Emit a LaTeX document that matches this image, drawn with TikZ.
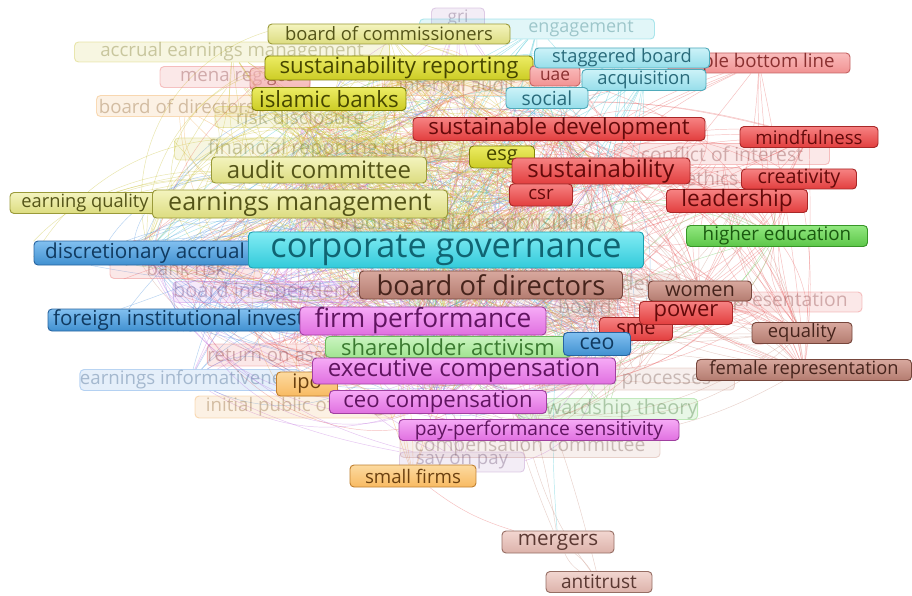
\documentclass[tikz,border=0pt]{standalone}
\usepackage{fontspec}
\setmainfont{Open Sans}
\pgfdeclarelayer{background}
\pgfsetlayers{background,main}
\definecolor{eRed}{HTML}{E86060}
\definecolor{eYel}{HTML}{C8C030}
\definecolor{eMag}{HTML}{C070E0}
\definecolor{eBlu}{HTML}{4A90E0}
\definecolor{eCyn}{HTML}{30C0D0}
\definecolor{eGrn}{HTML}{60C850}
\definecolor{eBrn}{HTML}{C89080}
\definecolor{eOrg}{HTML}{F0A040}
\definecolor{fPur}{HTML}{B080C0}
\tikzset{
 kwbase/.style={rectangle,rounded corners=3pt,inner xsep=0pt,inner ysep=0pt,line width=0.7pt},
 ylw/.style={kwbase,draw={rgb,255:red,154;green,154;blue,58},top color={rgb,255:red,244;green,244;blue,190},bottom color={rgb,255:red,220;green,220;blue,128},text={rgb,255:red,84;green,84;blue,24}},
 ylb/.style={kwbase,draw={rgb,255:red,130;green,130;blue,10},top color={rgb,255:red,236;green,236;blue,100},bottom color={rgb,255:red,204;green,204;blue,36},text={rgb,255:red,70;green,70;blue,0}},
 cyn/.style={kwbase,draw={rgb,255:red,30;green,160;blue,176},top color={rgb,255:red,130;green,236;blue,244},bottom color={rgb,255:red,50;green,202;blue,218},text={rgb,255:red,16;green,100;blue,114}},
 cynl/.style={kwbase,draw={rgb,255:red,80;green,170;blue,186},top color={rgb,255:red,204;green,242;blue,248},bottom color={rgb,255:red,150;green,222;blue,234},text={rgb,255:red,40;green,106;blue,122}},
 red/.style={kwbase,draw={rgb,255:red,168;green,40;blue,40},top color={rgb,255:red,246;green,130;blue,130},bottom color={rgb,255:red,226;green,62;blue,62},text={rgb,255:red,100;green,10;blue,10}},
 redl/.style={kwbase,draw={rgb,255:red,196;green,100;blue,100},top color={rgb,255:red,250;green,188;blue,188},bottom color={rgb,255:red,240;green,146;blue,146},text={rgb,255:red,138;green,48;blue,48}},
 brn/.style={kwbase,draw={rgb,255:red,118;green,70;blue,60},top color={rgb,255:red,216;green,168;blue,158},bottom color={rgb,255:red,180;green,124;blue,112},text={rgb,255:red,70;green,36;blue,28}},
 brnl/.style={kwbase,draw={rgb,255:red,150;green,110;blue,100},top color={rgb,255:red,242;green,214;blue,208},bottom color={rgb,255:red,220;green,178;blue,170},text={rgb,255:red,90;green,56;blue,50}},
 grn/.style={kwbase,draw={rgb,255:red,56;green,150;blue,40},top color={rgb,255:red,146;green,232;blue,128},bottom color={rgb,255:red,92;green,198;blue,72},text={rgb,255:red,26;green,90;blue,16}},
 grnl/.style={kwbase,draw={rgb,255:red,110;green,184;blue,96},top color={rgb,255:red,202;green,244;blue,192},bottom color={rgb,255:red,160;green,228;blue,144},text={rgb,255:red,58;green,122;blue,48}},
 blu/.style={kwbase,draw={rgb,255:red,40;green,100;blue,160},top color={rgb,255:red,130;green,192;blue,240},bottom color={rgb,255:red,64;green,144;blue,208},text={rgb,255:red,16;green,58;blue,96}},
 mag/.style={kwbase,draw={rgb,255:red,160;green,64;blue,160},top color={rgb,255:red,246;green,170;blue,246},bottom color={rgb,255:red,224;green,112;blue,224},text={rgb,255:red,96;green,20;blue,96}},
 org/.style={kwbase,draw={rgb,255:red,192;green,128;blue,48},top color={rgb,255:red,252;green,218;blue,160},bottom color={rgb,255:red,248;green,186;blue,98},text={rgb,255:red,106;green,64;blue,16}},
 fd/.style={kwbase,draw=#1,fill=#1,draw opacity=0.35,fill opacity=0.14,text=#1!55!black,text opacity=0.34},
 fdtext/.style={inner sep=0pt,text=#1!55!black,text opacity=0.34},
 edge/.style={line width=0.35pt,draw opacity=0.4}
}
\newcommand\kw[8]{\node[#6,minimum width={#4*0.75pt},minimum height={#5*0.75pt},font=\fontsize{#7pt}{#7pt}\selectfont] (#1) at (#2,#3) {#8};}
\begin{document}
\begin{tikzpicture}[x=0.75pt,y=-0.75pt]
\begin{pgfonlayer}{background}
\fill[white] (0,0) rectangle (912,595);
\end{pgfonlayer}
\useasboundingbox (0,0) rectangle (912,595);
% ---------- faded keywords ----------
\kw{gri}{458}{18}{53}{20}{fd=fPur}{13}{gri}
\kw{eng}{537}{29}{235}{20}{fd=eCyn}{13.5}{}
\node[fdtext=eCyn,font=\fontsize{13.5pt}{13.5pt}\selectfont] (engt) at (581,29) {engagement};
\kw{aem}{232}{52}{315}{20}{fd=eYel}{14}{accrual earnings management}
\kw{mena}{235}{77}{150}{21}{fd=eRed}{14}{mena region}
\kw{ia}{457}{85}{145}{21}{fd=eOrg}{14}{internal audit}
\kw{bodf}{177}{106}{161}{21}{fd=eOrg}{14}{board of directors}
\kw{rd}{300}{117}{170}{21}{fd=eYel}{14.5}{risk disclosure}
\kw{frq}{327}{149}{305}{22}{fd=eYel}{15}{financial reporting quality}
\kw{coi}{722}{154}{215}{21}{fd=eRed}{14.5}{conflict of interest}
\kw{eth}{712}{178}{60}{21}{fd=eRed}{14.5}{ethics}
\kw{csrf}{462}{224}{320}{20}{fd=eYel}{15}{corporate social responsibility}
\kw{bank}{186}{268}{152}{21}{fd=eRed}{14}{bank risk}
\kw{bi}{270}{292}{180}{21}{fd=eMag}{15}{board independence}
\kw{gen}{620}{285}{120}{22}{fd=eBrn}{15}{gender}
\kw{brd}{585}{306}{60}{21}{fd=eBrn}{14.5}{board}
\kw{rep}{781}{302}{162}{20}{fd=eRed}{14.5}{representation}
\kw{roa}{278}{355}{125}{22}{fd=eRed}{14}{return on assets}
\kw{einf}{190}{380}{220}{21}{fd=eBlu}{14}{earnings informativeness}
\kw{bp}{637}{379}{195}{22}{fd=eBrn}{14.5}{board processes}
\kw{ipof}{295}{407}{200}{22}{fd=eOrg}{14}{initial public offering}
\kw{st}{608}{409}{177}{21}{fd=eGrn}{15}{stewardship theory}
\kw{cc}{530}{447}{260}{21}{fd=eBrn}{14.5}{compensation committee}
\kw{sop}{462}{462}{125}{20}{fd=fPur}{14}{say on pay}
% ---------- main keywords ----------
\kw{boc}{389}{34}{242}{20}{ylw}{13.8}{board of commissioners}
\kw{gcc}{280}{79}{60}{22}{redl,fill opacity=0.55,text opacity=0.6,draw opacity=0.6}{13}{gcc}
\kw{sr}{399}{68}{268}{24}{ylb}{16.7}{sustainability reporting}
\kw{ib}{329}{99}{154}{23}{ylb}{16.8}{islamic banks}
\kw{tbl}{759}{63}{182}{20}{redl}{14}{triple bottom line}
\kw{uae}{555}{76}{50}{20}{redl}{13}{uae}
\kw{stag}{622}{58}{175}{20}{cynl}{13.7}{staggered board}
\kw{acq}{644}{80}{124}{21}{cynl}{13.8}{acquisition}
\kw{soc}{547}{98}{82}{21}{cynl}{14.5}{social}
\kw{sd}{559}{129}{292}{23}{red}{16.7}{sustainable development}
\kw{mind}{809}{137}{138}{21}{red}{14}{mindfulness}
\kw{esg}{502}{157}{65}{22}{ylb}{15}{esg}
\kw{sus}{601}{171}{178}{26}{red}{18}{sustainability}
\kw{ac}{319}{170}{215}{26}{ylw}{18}{audit committee}
\kw{crea}{799}{179}{115}{20}{red}{14.8}{creativity}
\kw{csr}{541}{195}{63}{22}{red}{14}{csr}
\kw{lead}{737}{201}{141}{23}{red}{17}{leadership}
\kw{eq}{85}{203}{150}{21}{ylw}{13.7}{earning quality}
\kw{em}{300}{204}{295}{28}{ylw}{18.8}{earnings management}
\kw{hed}{777}{236}{181}{21}{grn}{14.1}{higher education}
\kw{da}{145}{253}{222}{24}{blu}{15.5}{discretionary accrual}
\kw{cg}{446}{250}{395}{36}{cyn}{25.7}{corporate governance}
\kw{bod}{491}{285}{263}{28}{brn}{20.5}{board of directors}
\kw{wom}{700}{291}{103}{20}{brn}{15}{women}
\kw{sme}{636}{329}{73}{23}{red}{15}{sme}
\kw{pow}{686}{313}{93}{23}{red}{16.5}{power}
\kw{fii}{194}{320}{292}{22}{blu}{15.5}{foreign institutional investors}
\kw{fp}{423}{321}{246}{28}{mag}{19.7}{firm performance}
\kw{equ}{802}{333}{100}{21}{brn}{13.8}{equality}
\kw{sha}{448}{347}{245}{21}{grnl}{16.5}{shareholder activism}
\kw{ceo}{597}{344}{67}{23}{blu}{16}{ceo}
\kw{frep}{804}{370}{215}{21}{brn}{13.7}{female representation}
\kw{ipo}{307}{384}{61}{24}{org}{15}{ipo}
\kw{ec}{464}{371}{303}{26}{mag}{18.1}{executive compensation}
\kw{ceoc}{438}{402}{217}{23}{mag}{16.6}{ceo compensation}
\kw{pps}{539}{430}{280}{21}{mag}{14.4}{pay-performance sensitivity}
\kw{smf}{413}{476}{126}{22}{org}{14}{small firms}
\kw{mer}{558}{542}{112}{22}{brnl}{15.5}{mergers}
\kw{anti}{599}{582}{106}{21}{brnl}{14.3}{antitrust}
% ---------- connectors ----------
\pgfmathsetseed{7}
\begin{pgfonlayer}{background}
\foreach \s in {sus,sd,csr,lead,pow,sme,mind,crea,tbl,uae,coi,eth,rep,bank,roa}{
 \foreach \t in {cg,bod,fp,em,ac,ec,wom,frep,equ,hed,sus,sd}{
  \ifx\s\t\else
  \pgfmathsetmacro\bb{rand*32}
  \draw[edge,eRed] (\s) to[bend left=\bb] (\t);
  \fi}}
\foreach \s in {ac,em,boc,sr,ib,esg,eq,aem,frq,rd,mena,gcc,csrf}{
 \foreach \t in {cg,bod,fp,sus,csr,da,ec,sha,em}{
  \ifx\s\t\else
  \pgfmathsetmacro\bb{rand*45}
  \draw[edge,eYel] (\s) to[bend left=\bb] (\t);
  \fi}}
\foreach \s in {fp,ec,ceoc,pps,bi,sop,gri}{
 \foreach \t in {cg,bod,em,ac,da,fii,ceo,sha,sus,einf}{
  \pgfmathsetmacro\bb{rand*45}
  \draw[edge,eMag] (\s) to[bend left=\bb] (\t);}}
\foreach \s in {da,fii,ceo,einf}{
 \foreach \t in {cg,em,fp,ec,ac,bod,bi,ipo}{
  \pgfmathsetmacro\bb{rand*45}
  \draw[edge,eBlu] (\s) to[bend left=\bb] (\t);}}
\foreach \s in {cg,stag,acq,soc,eng}{
 \foreach \t in {bod,fp,em,ac,sus,sd,ec,ceoc,sha,csr,da}{
  \pgfmathsetmacro\bb{rand*45}
  \draw[edge,eCyn] (\s) to[bend left=\bb] (\t);}}
\foreach \s in {sha,hed,st}{
 \foreach \t in {cg,ec,fp,bod,ceo,lead,sus,ceoc}{
  \pgfmathsetmacro\bb{rand*45}
  \draw[edge,eGrn] (\s) to[bend left=\bb] (\t);}}
\foreach \s in {bod,wom,equ,frep,gen,brd,bp,cc}{
 \foreach \t in {cg,fp,ec,sus,pow,sme,lead,ceoc,em}{
  \pgfmathsetmacro\bb{rand*40}
  \draw[edge,eBrn] (\s) to[bend left=\bb] (\t);}}
\foreach \s in {ipo,smf,ipof,ia,bodf}{
 \foreach \t in {cg,fp,ec,em,bod,ac}{
  \pgfmathsetmacro\bb{rand*45}
  \draw[edge,eOrg] (\s) to[bend left=\bb] (\t);}}
% dense central tangle
\foreach \s/\c in {cg/eCyn,bod/eBrn,fp/eMag,em/eYel,ac/eYel,ec/eMag,sha/eGrn,ceoc/eMag,sus/eRed,csr/eRed,sd/eRed,esg/eYel,frq/eYel,csrf/eYel,bi/eMag,da/eBlu,fii/eBlu,ia/eOrg,rd/eYel,sr/eYel,ib/eYel,ceo/eBlu,sme/eRed,pow/eRed,gen/eBrn,brd/eBrn,roa/eRed,bank/eRed}{
 \foreach \t in {cg,bod,fp,em,ac,ec,sha,ceoc,sus,csr,sd,esg,frq,csrf,bi,da,ia,rd,sr,ceo}{
  \ifx\s\t\else
  \pgfmathsetmacro\aa{int(random(0,359))}
  \pgfmathsetmacro\ab{int(random(0,359))}
  \pgfmathsetmacro\bb{rand*60}
  \draw[edge,\c] (\s.\aa) to[bend left=\bb] (\t.\ab);
  \fi}}
\draw[edge,eBrn] (mer) to[bend left=10] (anti);
\draw[edge,eBrn] (mer) to[bend right=15] (anti);
\draw[edge,eBrn] (mer) to[bend left=8] (bod);
\draw[edge,eBrn] (mer) to[bend right=12] (cg);
\draw[edge,eBrn] (anti) to[bend right=6] (bod);
\draw[edge,eBrn] (anti) to[bend left=10] (cc);
\draw[edge,eRed] (smf) to[bend right=10] (mer);
\draw[edge,eCyn] (mer) to[bend left=15] (acq);
\end{pgfonlayer}
\end{tikzpicture}
\end{document}
